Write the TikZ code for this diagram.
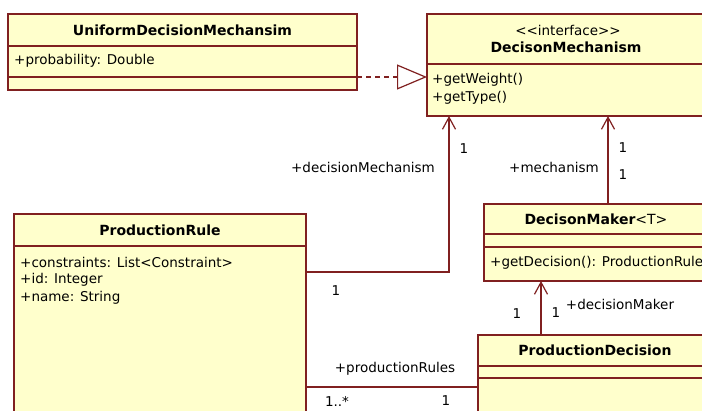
\documentclass[tikz,border=0pt]{standalone}
\usepackage{fontspec}
\setmainfont{DejaVu Sans}
\usetikzlibrary{arrows.meta}
\definecolor{umlfill}{RGB}{255,255,204}
\definecolor{umlline}{RGB}{128,32,32}
\begin{document}
\begin{tikzpicture}[x=1pt,y=-1pt,
  box/.style={draw=umlline,fill=umlfill,line width=1.2pt,rectangle,inner sep=0pt,outer sep=0pt,anchor=north west},
  sep/.style={draw=umlline,line width=1.2pt},
  ttl/.style={font=\fontsize{14}{16}\selectfont\bfseries,inner sep=0pt},
  txt/.style={font=\fontsize{13.5}{16}\selectfont,inner sep=0pt,anchor=west},
  lbl/.style={font=\fontsize{13.5}{16}\selectfont,inner sep=0pt},
  conn/.style={draw=umlline,line width=1.2pt},
  arr/.style={conn,-{Straight Barb[length=12pt,width=13pt,line width=1.2pt]}},
  real/.style={conn,dash pattern=on 5pt off 4pt,-{Triangle[open,length=30pt,width=25pt,line width=1.2pt]}}
]
\useasboundingbox (0,0) rectangle (702,410);
\clip (0,0) rectangle (702,410);
\fill[white] (0,0) rectangle (702,410);

% UniformDecisionMechansim
\node[box,minimum width=349pt,minimum height=76pt] (udm) at (8,14) {};
\draw[sep] (8,46) -- (357,46);
\draw[sep] (8,77) -- (357,77);
\node[ttl] (udmT) at (182.5,30) {UniformDecisionMechansim};
\node[txt] (udmA) at (14,61) {+probability: Double};

% DecisonMechanism
\node[box,minimum width=290pt,minimum height=102pt] (dm) at (427,14) {};
\draw[sep] (427,64) -- (717,64);
\node[lbl] (dmS) at (568,30) {<{}<interface>{}>};
\node[ttl] (dmT) at (566,47) {DecisonMechanism};
\node[txt] (dmO1) at (432,80) {+getWeight()};
\node[txt] (dmO2) at (432,98) {+getType()};

% DecisonMaker<T>
\node[box,minimum width=230pt,minimum height=77pt] (dmk) at (484,204) {};
\draw[sep] (484,234) -- (714,234);
\draw[sep] (484,247) -- (714,247);
\node[ttl] (dmkT) at (596,219) {DecisonMaker\mdseries<T>};
\node[txt] (dmkO) at (490,263) {+getDecision(): ProductionRule};

% ProductionDecision
\node[box,minimum width=240pt,minimum height=100pt] (pd) at (478,335) {};
\draw[sep] (478,366) -- (718,366);
\draw[sep] (478,378) -- (718,378);
\node[ttl] (pdT) at (595,350) {ProductionDecision};

% ProductionRule
\node[box,minimum width=292pt,minimum height=220pt] (pr) at (14,214) {};
\draw[sep] (14,246) -- (306,246);
\node[ttl] (prT) at (160,230) {ProductionRule};
\node[txt] (prA1) at (20,262) {+constraints: List<Constraint>};
\node[txt] (prA2) at (20,280) {+id: Integer};
\node[txt] (prA3) at (20,298) {+name: String};

% connectors
\coordinate (r1) at (357,77);
\draw[real] (r1) -- (r1 -| dm.west);

\coordinate (c1) at (449,272);
\draw[arr] (pr.east |- c1) -- (c1) -- (c1 |- dm.south);

\coordinate (c2) at (608,204);
\draw[arr] (c2) -- (c2 |- dm.south);

\coordinate (c3) at (541,335);
\draw[arr] (c3) -- (c3 |- dmk.south);

\coordinate (c4) at (306,387);
\draw[conn] (c4) -- (c4 -| pd.west);

% labels
\node[lbl] (l1) at (363,167) {+decisionMechanism};
\node[lbl] (l2) at (464,149) {1};
\node[lbl] (l3) at (336,291) {1};
\node[lbl] (l4) at (554,167) {+mechanism};
\node[lbl] (l5) at (623,148) {1};
\node[lbl] (l6) at (623,175) {1};
\node[lbl] (l7) at (620,304) {+decisionMaker};
\node[lbl] (l8) at (517,314) {1};
\node[lbl] (l9) at (556,313) {1};
\node[lbl] (l10) at (395,369) {+productionRules};
\node[lbl] (l11) at (337,401) {1..*};
\node[lbl] (l12) at (446,401) {1};
\end{tikzpicture}
\end{document}
